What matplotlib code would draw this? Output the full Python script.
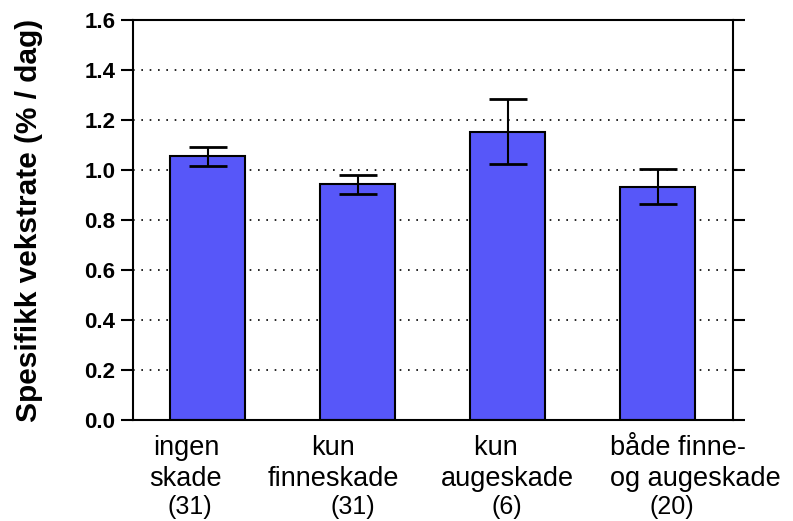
import matplotlib
matplotlib.use("Agg")
import matplotlib.pyplot as plt
from matplotlib.transforms import blended_transform_factory

plt.rcParams['font.family'] = ['Liberation Sans', 'DejaVu Sans']

# Data
kategorier = ["ingen\nskade", "kun\nfinneskade", "kun   \naugeskade", "både finne-\nog augeskade"]
antall = ["(31)", "(31)", "(6)", "(20)"]
vekst = [1.055, 0.942, 1.153, 0.933]
feil = [0.038, 0.039, 0.130, 0.069]
y_ticks = [0.0, 0.2, 0.4, 0.6, 0.8, 1.0, 1.2, 1.4, 1.6]

# små forskyvninger (piksler) av etikettene, som i originalen
etikett_dx = [-22, -25, -1, 37]
etikett_just = ["center", "center", "center", "left"]
antall_dx = [-18, -5, -1, 14]

fig = plt.figure(figsize=(7.93, 5.21), dpi=100)
ax = fig.add_axes([0.1677, 0.1939, 0.7566, 0.7677])

x = list(range(len(kategorier)))
ax.bar(x, vekst, width=0.5, color="#5757F9", edgecolor="black", linewidth=1.5, zorder=2)
ax.errorbar(x, vekst, yerr=feil, fmt="none", ecolor="black", elinewidth=1.5,
            capsize=14, capthick=2, zorder=3)

ax.set_xlim(-0.5, 3.5)
ax.set_ylim(0, 1.6)
ax.set_yticks(y_ticks)
ax.set_yticklabels([f"{v:.1f}" for v in y_ticks], fontsize=16, fontweight="bold")
ax.tick_params(axis="y", which="both", direction="out", length=8.5, width=1.5,
               left=True, right=True, labelright=False, pad=4)

# stiplede linjer, ikke på 0 og 1.6
for v in y_ticks[1:-1]:
    ax.axhline(v, color="black", linestyle=(0, (1, 4)), linewidth=1.2, zorder=1)

for s in ax.spines.values():
    s.set_linewidth(1.5)

ax.set_xticks(x)
ax.set_xticklabels([])
ax.tick_params(axis="x", length=0)

trans = blended_transform_factory(ax.transData, ax.transAxes)
for xi, tekst, dx, just in zip(x, kategorier, etikett_dx, etikett_just):
    ax.annotate(tekst, xy=(xi, 0), xycoords=trans, xytext=(dx, -15),
                textcoords="offset pixels", ha="center", va="top",
                multialignment=just, fontsize=19.5, linespacing=1.24)
for xi, n, dx in zip(x, antall, antall_dx):
    ax.annotate(n, xy=(xi, 0), xycoords=trans, xytext=(dx, -94),
                textcoords="offset pixels", ha="center", va="baseline", fontsize=18)

ax.set_ylabel("Spesifikk vekstrate (% / dag)", fontsize=21.5, fontweight="bold", labelpad=30)

fig.savefig("out.png", dpi=100)
